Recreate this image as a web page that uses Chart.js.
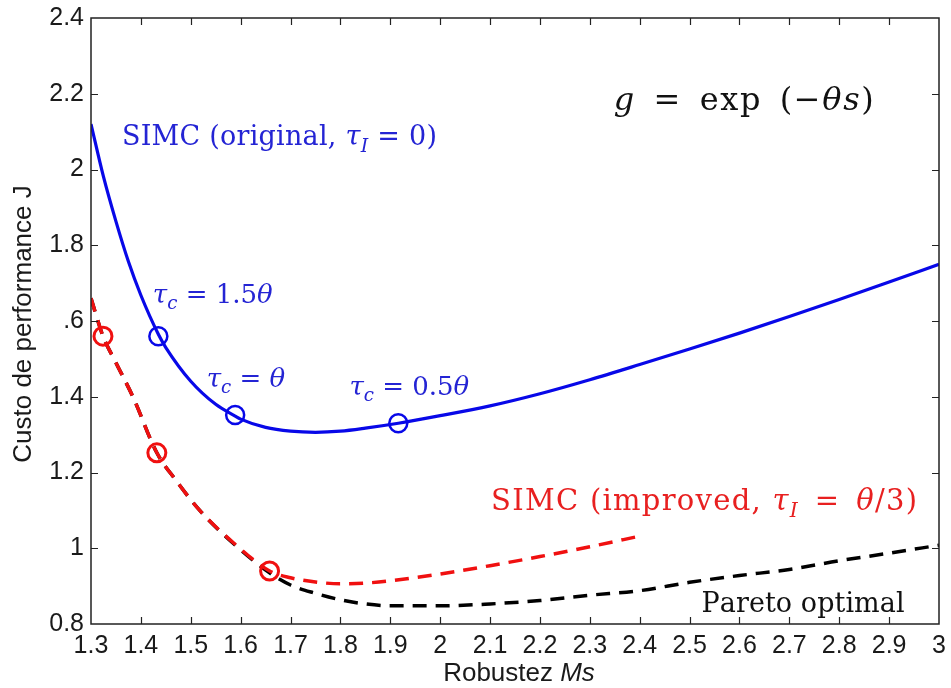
<!DOCTYPE html>
<html>
<head>
<meta charset="utf-8">
<script src="https://cdn.jsdelivr.net/npm/chart.js@4.4.1/dist/chart.umd.min.js"></script>
<style>
  html, body { margin: 0; padding: 0; background: #fff; }
  #wrap { width: 951px; height: 688px; }
</style>
</head>
<body>
<div id="wrap"><canvas id="chart" width="951" height="688"></canvas></div>
<script>
// axis ticks
const xTicks = [1.3, 1.4, 1.5, 1.6, 1.7, 1.8, 1.9, 2, 2.1, 2.2, 2.3, 2.4, 2.5, 2.6, 2.7, 2.8, 2.9, 3]
const xTickLabels = ["1.3", "1.4", "1.5", "1.6", "1.7", "1.8", "1.9", "2", "2.1", "2.2", "2.3", "2.4", "2.5", "2.6", "2.7", "2.8", "2.9", "3"]
const yTicks = [0.8, 1, 1.2, 1.4, 1.6, 1.8, 2, 2.2, 2.4]
const yTickLabels = ["0.8", "1", "1.2", "1.4", ".6", "1.8", "2", "2.2", "2.4"]

// SIMC original (tau_I = 0)
const origMs = [1.3, 1.325, 1.35, 1.375, 1.4, 1.435, 1.45, 1.5, 1.55, 1.589, 1.6, 1.65, 1.7, 1.75, 1.8, 1.85, 1.916, 2.0, 2.1, 2.2, 2.3, 2.4, 2.5, 2.6, 2.7, 2.8, 2.9, 3.0]
const origJ = [2.12, 1.981, 1.863, 1.757, 1.668, 1.565, 1.53, 1.441, 1.38, 1.349, 1.341, 1.319, 1.309, 1.306, 1.309, 1.317, 1.33, 1.35, 1.376, 1.408, 1.445, 1.485, 1.526, 1.568, 1.612, 1.657, 1.703, 1.75]
const origMarkMs = [1.435, 1.589, 1.916]
const origMarkJ = [1.56, 1.352, 1.33]

// SIMC improved (tau_I = theta/3)
const impMs = [1.3, 1.324, 1.35, 1.384, 1.432, 1.47, 1.518, 1.586, 1.658, 1.7, 1.75, 1.8, 1.85, 1.9, 2.0, 2.1, 2.2, 2.3, 2.4]
const impJ = [1.66, 1.56, 1.49, 1.40, 1.252, 1.18, 1.10, 1.014, 0.94, 0.922, 0.911, 0.906, 0.908, 0.914, 0.932, 0.954, 0.978, 1.004, 1.032]
const impMarkMs = [1.324, 1.432, 1.658]
const impMarkJ = [1.56, 1.252, 0.94]

// Pareto optimal
const paretoMs = [1.3, 1.324, 1.35, 1.384, 1.432, 1.47, 1.518, 1.586, 1.658, 1.7, 1.75, 1.8, 1.85, 1.9, 2.0, 2.1, 2.2, 2.3, 2.4, 2.5, 2.6, 2.7, 2.8, 2.9, 3.0]
const paretoJ = [1.66, 1.56, 1.49, 1.40, 1.252, 1.18, 1.10, 1.012, 0.935, 0.903, 0.881, 0.864, 0.853, 0.848, 0.848, 0.853, 0.862, 0.876, 0.888, 0.91, 0.928, 0.944, 0.967, 0.987, 1.008]

// text labels inside the plot: [text, style] with n = normal, i = italic, s = italic subscript
// size is the font size, w the width the label takes in the picture (letters get spread to fit)
const annotations = [
  { x: 2.348, y: 2.157, size: 32, w: 260, color: "#111111", parts: [["g", "i"], ["\u2002=\u2002exp\u2002(\u2212", "n"], ["\u03b8s", "i"], [")", "n"]] },
  { x: 1.362, y: 2.065, size: 27, w: 315, color: "#2424d4", parts: [["SIMC (original, ", "n"], ["\u03c4", "i"], ["I", "s"], [" = 0)", "n"]] },
  { x: 1.424, y: 1.648, size: 26, w: 117, color: "#2424d4", parts: [["\u03c4", "i"], ["c", "s"], [" = 1.5", "n"], ["\u03b8", "i"]] },
  { x: 1.532, y: 1.426, size: 26, w: 75, color: "#2424d4", parts: [["\u03c4", "i"], ["c", "s"], [" = ", "n"], ["\u03b8", "i"]] },
  { x: 1.818, y: 1.405, size: 26, w: 117, color: "#2424d4", parts: [["\u03c4", "i"], ["c", "s"], [" = 0.5", "n"], ["\u03b8", "i"]] },
  { x: 2.102, y: 1.101, size: 29, w: 426, color: "#e82020", parts: [["SIMC (improved, ", "n"], ["\u03c4", "i"], ["I", "s"], ["\u2002=\u2002", "n"], ["\u03b8", "i"], ["/3)", "n"]] },
  { x: 2.524, y: 0.832, size: 27, w: 203, color: "#111111", parts: [["Pareto optimal", "n"]] }
]

const toPoints = (xs, ys) => xs.map((x, i) => ({ x: x, y: ys[i] }))
const labelFor = (ticks, labels, v) => {
  const i = ticks.findIndex(t => Math.abs(t - v) < 1e-6)
  return i >= 0 ? labels[i] : ""
}

const partFont = (st, size) => (st === "n" ? "" : "italic ") + (st === "s" ? size * 0.7 : size) + "px 'DejaVu Serif'"

function drawRich(ctx, an) {
  const { parts, size, color } = an
  let plain = 0, count = 0
  for (const [txt, st] of parts) {
    ctx.font = partFont(st, size)
    for (const ch of txt) { plain += ctx.measureText(ch).width; count++ }
  }
  const ls = count > 1 ? Math.max(0, (an.w - plain) / (count - 1)) : 0
  let cx = an.px
  ctx.fillStyle = color
  ctx.textAlign = "left"
  ctx.textBaseline = "alphabetic"
  for (const [txt, st] of parts) {
    ctx.font = partFont(st, size)
    const y = st === "s" ? an.py + size * 0.25 : an.py
    for (const ch of txt) {
      ctx.fillText(ch, cx, y)
      cx += ctx.measureText(ch).width + ls
    }
  }
}

const framePlugin = {
  id: "frame",
  afterDatasetsDraw(chart) {
    const { ctx, chartArea: a, scales } = chart
    ctx.save()
    ctx.strokeStyle = "#222"
    ctx.lineWidth = 1.5
    ctx.strokeRect(a.left, a.top, a.right - a.left, a.bottom - a.top)
    const tl = 7
    ctx.beginPath()
    xTicks.slice(1, -1).forEach(v => {
      const px = Math.round(scales.x.getPixelForValue(v)) + 0.5
      ctx.moveTo(px, a.bottom); ctx.lineTo(px, a.bottom - tl)
      ctx.moveTo(px, a.top); ctx.lineTo(px, a.top + tl)
    })
    yTicks.slice(1, -1).forEach(v => {
      const py = Math.round(scales.y.getPixelForValue(v)) + 0.5
      ctx.moveTo(a.left, py); ctx.lineTo(a.left + tl, py)
      ctx.moveTo(a.right, py); ctx.lineTo(a.right - tl, py)
    })
    ctx.lineWidth = 1.2
    ctx.stroke()

    annotations.forEach(an => {
      drawRich(ctx, { ...an, px: scales.x.getPixelForValue(an.x), py: scales.y.getPixelForValue(an.y) })
    })

    // axis titles
    ctx.fillStyle = "#1a1a1a"
    ctx.font = "26px 'Liberation Sans'"
    ctx.save()
    ctx.translate(24, (a.top + a.bottom) / 2 + 3)
    ctx.rotate(-Math.PI / 2)
    ctx.textAlign = "center"
    ctx.textBaseline = "middle"
    ctx.fillText("Custo de performance J", 0, 0)
    ctx.restore()

    const t1 = "Robustez ", t2 = "Ms"
    ctx.font = "26px 'Liberation Sans'"
    const w1 = ctx.measureText(t1).width
    ctx.font = "italic 26px 'Liberation Sans'"
    const w2 = ctx.measureText(t2).width
    const x0 = (a.left + a.right) / 2 - (w1 + w2) / 2 + 4
    ctx.textAlign = "left"
    ctx.textBaseline = "alphabetic"
    ctx.font = "26px 'Liberation Sans'"
    ctx.fillText(t1, x0, 681)
    ctx.font = "italic 26px 'Liberation Sans'"
    ctx.fillText(t2, x0 + w1, 681)
    ctx.restore()
  }
}

const noPad = s => { s.paddingTop = 0; s.paddingBottom = 0; s.paddingLeft = 0; s.paddingRight = 0 }
const blue = "#0808e8"
const red = "#f01010"
const tickFont = { family: "'Liberation Sans'", size: 25 }

new Chart(document.getElementById("chart"), {
  type: "scatter",
  data: {
    datasets: [
      {
        data: toPoints(origMarkMs, origMarkJ), showLine: false, order: 0,
        pointRadius: 9, pointBorderWidth: 2.5, pointBorderColor: blue, pointBackgroundColor: "rgba(0,0,0,0)"
      },
      {
        data: toPoints(impMarkMs, impMarkJ), showLine: false, order: 0,
        pointRadius: 9, pointBorderWidth: 3, pointBorderColor: red, pointBackgroundColor: "rgba(0,0,0,0)"
      },
      {
        data: toPoints(origMs, origJ), showLine: true, order: 1,
        borderColor: blue, borderWidth: 3.2, pointRadius: 0, cubicInterpolationMode: "monotone"
      },
      {
        data: toPoints(impMs, impJ), showLine: true, order: 2,
        borderColor: red, borderWidth: 3.5, borderDash: [14, 9], pointRadius: 0, cubicInterpolationMode: "monotone"
      },
      {
        data: toPoints(paretoMs, paretoJ), showLine: true, order: 3,
        borderColor: "#000", borderWidth: 3.5, borderDash: [14, 9], pointRadius: 0, cubicInterpolationMode: "monotone"
      }
    ]
  },
  options: {
    responsive: false,
    animation: false,
    devicePixelRatio: 1,
    layout: { padding: { top: 18, right: 10, left: 0, bottom: 0 } },
    plugins: { legend: { display: false }, tooltip: { enabled: false } },
    scales: {
      x: {
        type: "linear", min: 1.3, max: 3,
        afterBuildTicks: s => { s.ticks = xTicks.map(v => ({ value: v })) },
        afterFit: s => { s.height = 64; noPad(s) },
        grid: { display: false, drawTicks: false },
        border: { display: false },
        ticks: {
          autoSkip: false, maxRotation: 0, padding: 7, color: "#1a1a1a", font: tickFont,
          callback: v => labelFor(xTicks, xTickLabels, v)
        }
      },
      y: {
        type: "linear", min: 0.8, max: 2.4,
        afterBuildTicks: s => { s.ticks = yTicks.map(v => ({ value: v })) },
        afterFit: s => { s.width = 91; noPad(s) },
        grid: { display: false, drawTicks: false },
        border: { display: false },
        ticks: {
          autoSkip: false, padding: 7, color: "#1a1a1a", font: tickFont,
          callback: v => labelFor(yTicks, yTickLabels, v)
        }
      }
    }
  },
  plugins: [framePlugin]
})
</script>
</body>
</html>
